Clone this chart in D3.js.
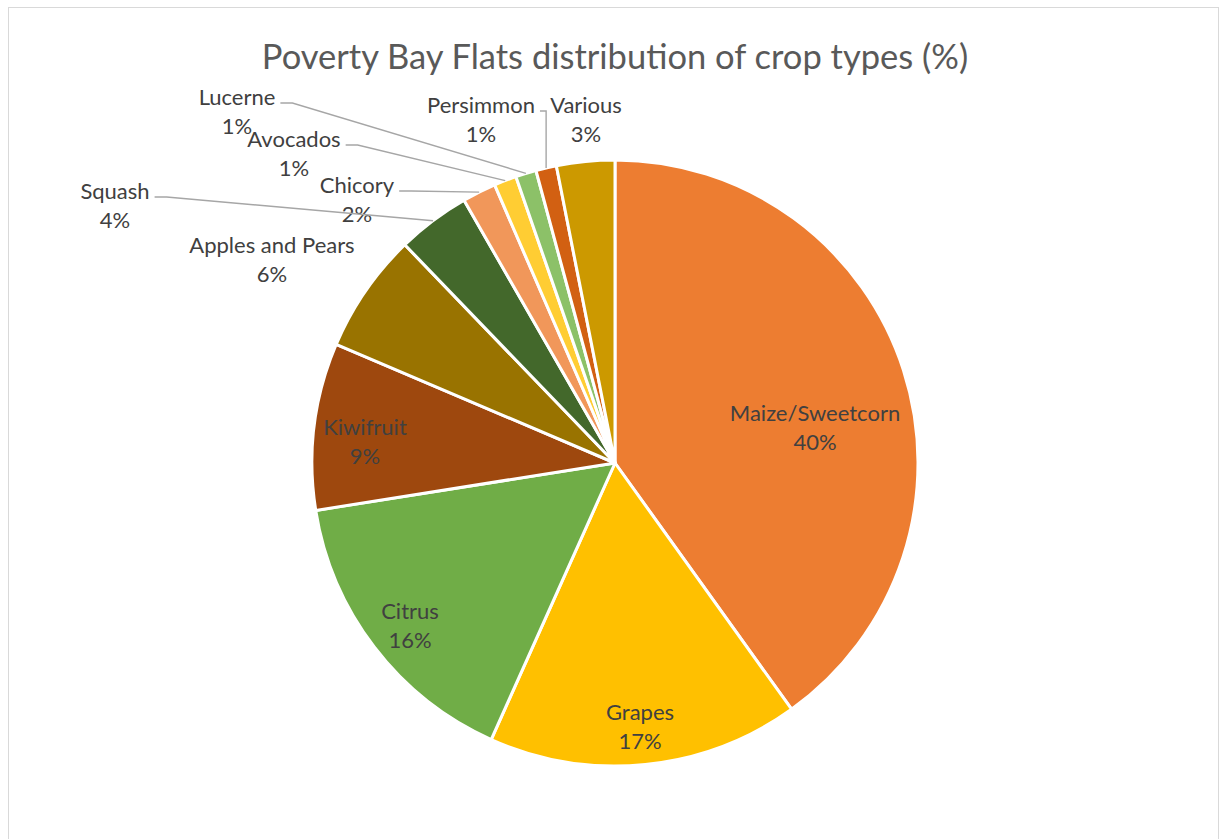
<!DOCTYPE html>
<html>
<head>
<meta charset="utf-8">
<script src="https://cdn.jsdelivr.net/npm/d3@7"></script>
<style>
  body { margin: 0; background: #fff; }
  svg text { font-family: Lato, "Open Sans", sans-serif; }
</style>
</head>
<body>
<div id="chart"></div>
<script>
var svgWidth = 1220;
var svgHeight = 839;

// crop shares, clockwise from 12 o'clock
var crops = ["Maize/Sweetcorn", "Grapes", "Citrus", "Kiwifruit", "Apples and Pears",
  "Squash", "Chicory", "Avocados", "Lucerne", "Persimmon", "Various"];
var shares = [40.1, 16.6, 15.8, 8.9, 6.4, 3.9, 1.8, 1.2, 1.1, 1.1, 3.1];
var colors = ["#ed7d31", "#ffc000", "#70ad47", "#9e480e", "#997300",
  "#43682b", "#f1975a", "#ffcd33", "#8cc168", "#d26012", "#cc9900"];

// where Excel put each label block (offset from pie centre)
var labelAt = {
  "Maize/Sweetcorn": [200, -36],
  "Grapes": [25, 263],
  "Citrus": [-205, 162],
  "Kiwifruit": [-250, -22],
  "Apples and Pears": [-343, -204],
  "Squash": [-500, -258],
  "Chicory": [-258, -264],
  "Avocados": [-321, -310],
  "Lucerne": [-378, -352],
  "Persimmon": [-134, -344],
  "Various": [-29, -344]
};
// labels that get a leader line
var leaders = ["Squash", "Chicory", "Avocados", "Lucerne", "Persimmon"];

var cx = 615, cy = 463, radius = 303;

var svg = d3.select("#chart")
  .append("svg")
  .attr("width", svgWidth)
  .attr("height", svgHeight);

// chart area frame
svg.append("rect")
  .attr("x", 8.5).attr("y", 7.5)
  .attr("width", 1210).attr("height", 850)
  .attr("fill", "#fff")
  .attr("stroke", "#d9d9d9");

svg.append("text")
  .attr("x", cx)
  .attr("y", 69)
  .attr("text-anchor", "middle")
  .attr("font-size", "34.5px")
  .attr("fill", "#595959")
  .text("Poverty Bay Flats distribution of crop types (%)");

var data = crops.map(function(c, i) { return { crop: c, value: shares[i], color: colors[i] }; });
var total = d3.sum(shares);

var pie = d3.pie()
  .sort(null)
  .value(d => d.value);

var arc = d3.arc()
  .innerRadius(0)
  .outerRadius(radius);

var chartGroup = svg.append("g")
  .attr("transform", `translate(${cx}, ${cy})`);

var arcs = pie(data);

chartGroup.selectAll("path.slice")
  .data(arcs)
  .enter()
  .append("path")
  .attr("class", "slice")
  .attr("d", arc)
  .attr("fill", d => d.data.color)
  .attr("stroke", "#fff")
  .attr("stroke-width", 3)
  .attr("stroke-linejoin", "round");

// labels
var labelGroup = chartGroup.selectAll("g.label")
  .data(arcs)
  .enter()
  .append("g")
  .attr("class", "label")
  .attr("transform", d => `translate(${labelAt[d.data.crop][0]}, ${labelAt[d.data.crop][1]})`);

labelGroup.append("text")
  .attr("text-anchor", "middle")
  .attr("dominant-baseline", "central")
  .attr("y", -14.5)
  .attr("font-size", "22px")
  .attr("fill", "#404040")
  .text(d => d.data.crop);

labelGroup.append("text")
  .attr("text-anchor", "middle")
  .attr("dominant-baseline", "central")
  .attr("y", 14.5)
  .attr("font-size", "22px")
  .attr("fill", "#404040")
  .text(d => Math.round(d.data.value / total * 100) + "%");

// leader lines from the slice edge to the label
labelGroup.each(function(d) {
  if (leaders.indexOf(d.data.crop) < 0) return;
  var g = d3.select(this);
  var w = g.select("text").node().getComputedTextLength();
  var pos = labelAt[d.data.crop];
  var mid = (d.startAngle + d.endAngle) / 2;
  var px = Math.sin(mid) * radius, py = -Math.cos(mid) * radius;
  var sx = pos[0] + w / 2 + 5, sy = pos[1] - 8;
  var ex = Math.min(sx + 12, px);
  chartGroup.append("polyline")
    .attr("points", [[sx, sy], [ex, sy], [px, py]].map(p => p.join(",")).join(" "))
    .attr("fill", "none")
    .attr("stroke", "#a6a6a6")
    .attr("stroke-width", 1.4);
});
</script>
</body>
</html>
